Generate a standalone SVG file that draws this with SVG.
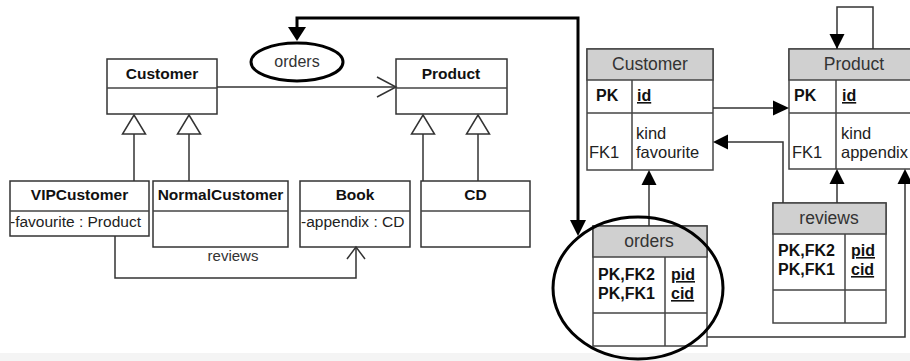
<svg xmlns="http://www.w3.org/2000/svg" width="910" height="361" viewBox="0 0 910 361">
  <style>
    .box { fill: #ffffff; stroke: #333333; stroke-width: 1.5; }
    .hdr { fill: #d0d0d0; stroke: #444444; stroke-width: 1.5; }
    .tbl { fill: #ffffff; stroke: #444444; stroke-width: 1.5; }
    .sep { stroke: #444444; stroke-width: 1.5; fill: none; }
    .ln { stroke: #333333; stroke-width: 1.5; fill: none; }
    .bold { stroke: #000000; stroke-width: 3; fill: none; }
    .cls { font-family: "Liberation Sans", Arial, sans-serif; font-size: 15.5px; font-weight: bold; fill: #111111; text-anchor: middle; }
    .attr { font-family: "Liberation Sans", Arial, sans-serif; font-size: 15.5px; fill: #222222; }
    .th { font-family: "Liberation Sans", Arial, sans-serif; font-size: 17.5px; fill: #333333; text-anchor: middle; }
    .tk { font-family: "Liberation Sans", Arial, sans-serif; font-size: 16px; font-weight: bold; fill: #111111; }
    .tr { font-family: "Liberation Sans", Arial, sans-serif; font-size: 16.5px; fill: #222222; }
    .lbl { font-family: "Liberation Sans", Arial, sans-serif; font-size: 15px; fill: #333333; text-anchor: middle; }
    .u { text-decoration: underline; }
    .gen { fill: #ffffff; stroke: #333333; stroke-width: 1.5; }
    .head { fill: #000000; stroke: none; }
  </style>

  <rect x="0" y="0" width="910" height="361" fill="#ffffff"/>
  <rect x="0" y="353" width="910" height="8" fill="#f4f4f4"/>

  <!-- UML class diagram -->
  <g id="uml-customer">
    <rect class="box" x="107" y="59" width="110" height="55"/>
    <line class="sep" x1="107" y1="88" x2="217" y2="88"/>
    <text class="cls" x="162" y="79">Customer</text>
  </g>
  <g id="uml-product">
    <rect class="box" x="396" y="59" width="111" height="55"/>
    <line class="sep" x1="396" y1="88" x2="507" y2="88"/>
    <text class="cls" x="451" y="79">Product</text>
  </g>
  <g id="uml-vipcustomer">
    <rect class="box" x="10" y="181" width="139" height="55"/>
    <line class="sep" x1="10" y1="211" x2="149" y2="211"/>
    <text class="cls" x="79.5" y="200">VIPCustomer</text>
    <text class="attr" x="10" y="227">-favourite : Product</text>
  </g>
  <g id="uml-normalcustomer">
    <rect class="box" x="153" y="181" width="135" height="66"/>
    <line class="sep" x1="153" y1="211" x2="288" y2="211"/>
    <text class="cls" x="220.5" y="200">NormalCustomer</text>
  </g>
  <g id="uml-book">
    <rect class="box" x="300" y="181" width="110" height="66"/>
    <line class="sep" x1="300" y1="211" x2="410" y2="211"/>
    <text class="cls" x="355" y="200">Book</text>
    <text class="attr" x="301" y="227">-appendix : CD</text>
  </g>
  <g id="uml-cd">
    <rect class="box" x="421" y="181" width="109" height="66"/>
    <line class="sep" x1="421" y1="211" x2="530" y2="211"/>
    <text class="cls" x="475.5" y="200">CD</text>
  </g>

  <!-- Relational tables -->
  <g id="tbl-customer">
    <rect class="tbl" x="587" y="49" width="126" height="121"/>
    <rect class="hdr" x="587" y="49" width="126" height="31"/>
    <line class="sep" x1="587" y1="113" x2="713" y2="113"/>
    <line class="sep" x1="632" y1="80" x2="632" y2="170"/>
    <text class="th" x="650" y="70">Customer</text>
    <text class="tk" x="596" y="101">PK</text>
    <text class="tk u" x="637" y="101">id</text>
    <text class="tr" x="636" y="139">kind</text>
    <text class="tr" x="589" y="158">FK1</text>
    <text class="tr" x="636" y="158">favourite</text>
  </g>
  <g id="tbl-product">
    <rect class="tbl" x="789" y="49" width="126" height="120"/>
    <rect class="hdr" x="789" y="49" width="126" height="31"/>
    <line class="sep" x1="789" y1="113" x2="915" y2="113"/>
    <line class="sep" x1="836" y1="80" x2="836" y2="169"/>
    <text class="th" x="854" y="70">Product</text>
    <text class="tk" x="794" y="101">PK</text>
    <text class="tk u" x="842" y="101">id</text>
    <text class="tr" x="841" y="139">kind</text>
    <text class="tr" x="792" y="158">FK1</text>
    <text class="tr" x="841" y="158">appendix</text>
  </g>
  <g id="tbl-orders">
    <rect class="tbl" x="593" y="226" width="114" height="120"/>
    <rect class="hdr" x="593" y="226" width="114" height="31"/>
    <line class="sep" x1="593" y1="313" x2="707" y2="313"/>
    <line class="sep" x1="665" y1="257" x2="665" y2="346"/>
    <text class="th" x="649" y="247">orders</text>
    <text class="tk" x="598" y="280">PK,FK2</text>
    <text class="tk" x="598" y="299">PK,FK1</text>
    <text class="tk u" x="671" y="280">pid</text>
    <text class="tk u" x="671" y="299">cid</text>
  </g>
  <g id="tbl-reviews">
    <rect class="tbl" x="773" y="203" width="113" height="120"/>
    <rect class="hdr" x="773" y="203" width="113" height="31"/>
    <line class="sep" x1="773" y1="290" x2="886" y2="290"/>
    <line class="sep" x1="845" y1="234" x2="845" y2="323"/>
    <text class="th" x="829" y="224">reviews</text>
    <text class="tk" x="778" y="256">PK,FK2</text>
    <text class="tk" x="778" y="275">PK,FK1</text>
    <text class="tk u" x="851" y="256">pid</text>
    <text class="tk u" x="851" y="275">cid</text>
  </g>

  <!-- Connectors -->
  <g id="connectors">
    <!-- generalizations -->
    <line class="ln" x1="134" y1="134" x2="134" y2="181"/>
    <line class="ln" x1="189" y1="134" x2="189" y2="181"/>
    <line class="ln" x1="423" y1="134" x2="423" y2="181"/>
    <line class="ln" x1="478" y1="134" x2="478" y2="181"/>
    <path class="gen" d="M134 115 L145.5 134 L122.5 134 Z"/>
    <path class="gen" d="M189 115 L200.5 134 L177.5 134 Z"/>
    <path class="gen" d="M423 115 L434.5 134 L411.5 134 Z"/>
    <path class="gen" d="M478 115 L489.5 134 L466.5 134 Z"/>

    <!-- orders association -->
    <line class="ln" x1="217" y1="87" x2="396" y2="87"/>
    <path class="ln" d="M377 77 L396 87 L377 97"/>

    <!-- reviews association -->
    <path class="ln" d="M115 236 L115 278 L356 278 L356 247"/>
    <path class="ln" d="M347 259 L356 247 L365 259"/>
    <text class="lbl" x="233" y="261">reviews</text>

    <!-- foreign key links -->
    <line class="ln" x1="713" y1="108" x2="774" y2="108"/>
    <path class="head" d="M789 108 L773 100.5 L773 115.5 Z"/>

    <path class="ln" d="M837 49 L837 7 L873 7 L873 49"/>
    <path class="head" d="M837 49 L829.5 34 L844.5 34 Z"/>

    <path class="ln" d="M783 203 L783 142 L728 142"/>
    <path class="head" d="M713 142 L728 134.5 L728 149.5 Z"/>

    <line class="ln" x1="649" y1="226" x2="649" y2="185"/>
    <path class="head" d="M649 170 L641.5 185 L656.5 185 Z"/>

    <line class="ln" x1="837" y1="203" x2="837" y2="184"/>
    <path class="head" d="M837 169 L829.5 184 L844.5 184 Z"/>

    <path class="ln" d="M707 337 L905 337 L905 184"/>
    <path class="head" d="M905 169 L897.5 184 L912.5 184 Z"/>

    <!-- highlight linking the two "orders" -->
    <path class="bold" d="M297 29 L297 18 L578 18 L578 222"/>
    <path class="head" d="M297 41 L288 27 L306 27 Z"/>
    <path class="head" d="M578 236 L570 220 L586 220 Z"/>
  </g>

  <g id="orders-oval">
    <ellipse class="bold" cx="297" cy="62" rx="46" ry="19" fill="#ffffff"/>
    <text class="lbl" x="297" y="67" style="font-size:16px">orders</text>
  </g>
  <g id="orders-ring">
    <ellipse class="bold" cx="638" cy="288" rx="85" ry="71"/>
  </g>
</svg>
